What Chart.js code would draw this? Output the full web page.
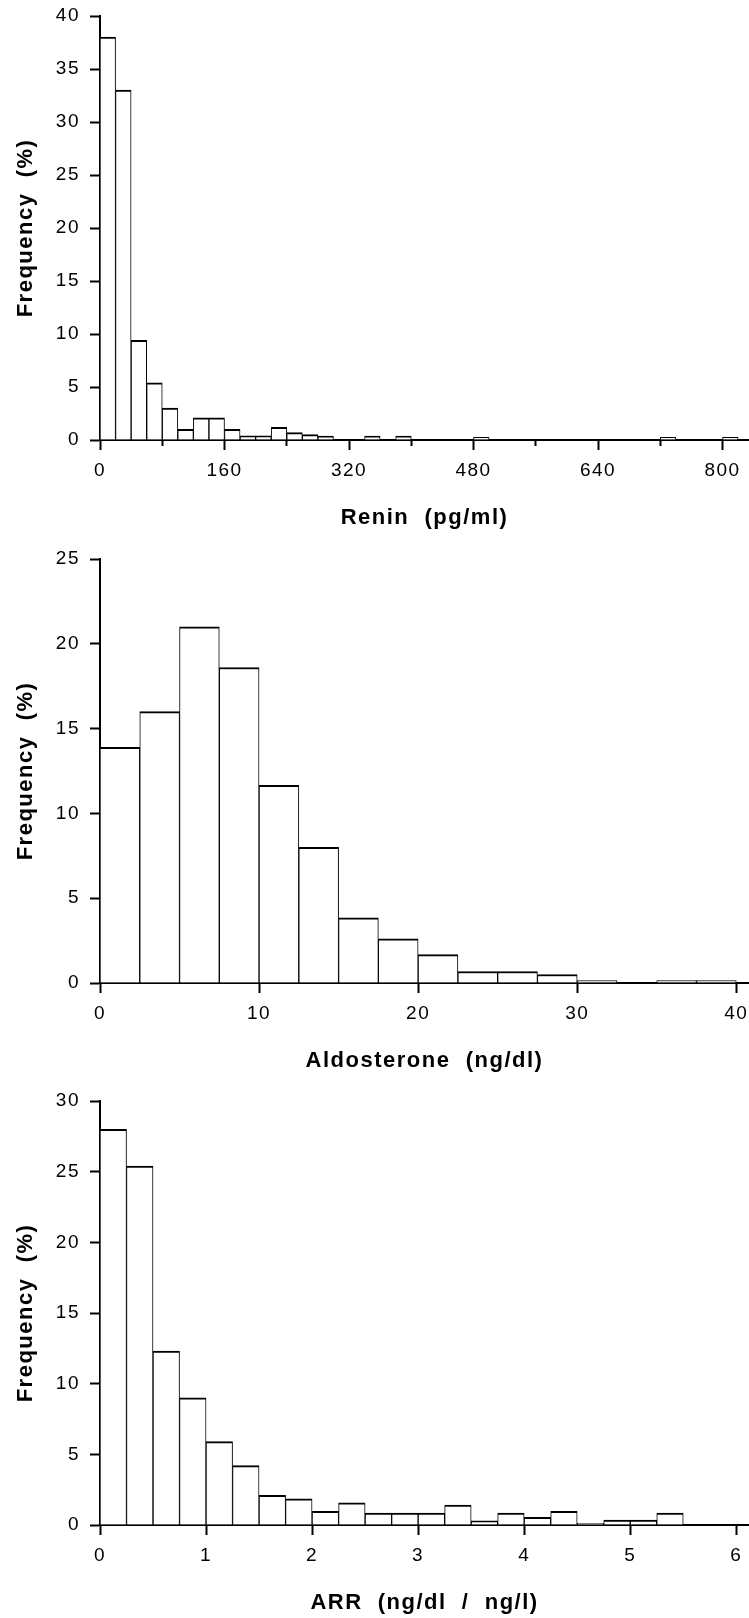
<!DOCTYPE html>
<html>
<head>
<meta charset="utf-8">
<script src="https://cdn.jsdelivr.net/npm/chart.js@4.4.1/dist/chart.umd.min.js"></script>
<style>
html,body{margin:0;padding:0;background:#fff;overflow:hidden;width:749px;height:1618px}
.panel{position:absolute;left:0;width:749px;height:543px}
</style>
</head>
<body>
<div class="panel" style="top:0"><canvas id="renin" width="749" height="543"></canvas></div>
<div class="panel" style="top:543px"><canvas id="aldo" width="749" height="543"></canvas></div>
<div class="panel" style="top:1085px"><canvas id="arr" width="749" height="543"></canvas></div>
<script>
// bin lower edges and frequencies (%)
const reninEdges=[0,20,40,60,80,100,120,140,160,180,200,220,240,260,280,300,320,340,360,380,400,420,440,460,480,500,520,540,560,580,600,620,640,660,680,700,720,740,760,780,800]
const reninFreq=[38,33,9.4,5.4,3.0,1.0,2.1,2.1,1.0,0.4,0.4,1.2,0.7,0.5,0.38,0,0,0.38,0,0.38,0,0,0,0,0.25,0,0,0,0,0,0,0,0,0,0,0,0.25,0,0,0,0.25]
const reninLabels=[0,160,320,480,640,800]

const aldoEdges=[0,2.5,5,7.5,10,12.5,15,17.5,20,22.5,25,27.5,30,32.5,35,37.5]
const aldoFreq=[13.9,16.0,21.0,18.6,11.65,8.0,3.84,2.6,1.67,0.68,0.68,0.5,0.15,0,0.15,0.15]
const aldoLabels=[0,10,20,30,40]

const arrEdges=[0,0.25,0.5,0.75,1,1.25,1.5,1.75,2,2.25,2.5,2.75,3,3.25,3.5,3.75,4,4.25,4.5,4.75,5,5.25]
const arrFreq=[28,25.4,12.3,9.0,5.9,4.2,2.1,1.85,0.97,1.56,0.84,0.84,0.84,1.41,0.3,0.84,0.54,0.97,0.12,0.35,0.35,0.84]
const arrLabels=[0,1,2,3,4,5,6]

const FONT="'Liberation Sans', Arial, Helvetica, sans-serif"

const spacing={
id:"spacing",
beforeUpdate(c){c.ctx.letterSpacing="1.5px"},
beforeDraw(c){c.ctx.letterSpacing="1.5px"}
}

function hist(id,edges,freq,binW,xMax,xStep,labels,yMax,xTitle){

const pts=edges.map((e,i)=>({x:e+binW/2,y:freq[i]}))

new Chart(document.getElementById(id),{
type:"bar",
data:{datasets:[{
data:pts,
backgroundColor:"#fff",
borderColor:"#000",
borderWidth:{top:2,left:1,right:1,bottom:0},
borderSkipped:"bottom",
barPercentage:1,
categoryPercentage:1
}]},
options:{
responsive:false,
animation:false,
events:[],
layout:{padding:{top:16,left:0,right:0,bottom:0}},
plugins:{legend:{display:false},tooltip:{enabled:false}},
scales:{
x:{
type:"linear",
min:0,
max:xMax,
offset:false,
z:1,
grid:{
display:true,offset:false,drawOnChartArea:false,drawTicks:true,
tickLength:10,tickWidth:2,tickColor:"#000",
// unlabelled ticks are drawn shorter
tickBorderDash:c=>(c.tick&&!labels.includes(c.tick.value))?[5,30]:[]
},
border:{display:true,color:"#000",width:2},
ticks:{
stepSize:xStep,
includeBounds:false,
autoSkip:false,
maxRotation:0,
padding:9,
color:"#000",
font:{family:FONT,size:19},
callback:v=>labels.includes(v)?String(v):""
},
title:{display:true,text:xTitle,color:"#000",font:{family:FONT,size:22,weight:"bold"},padding:{top:0,bottom:12}},
afterFit(s){s.height=103;s.paddingLeft=0;s.paddingRight=0}
},
y:{
min:0,
max:yMax,
z:1,
grid:{display:true,drawOnChartArea:false,drawTicks:true,tickLength:10,tickWidth:2,tickColor:"#000"},
border:{display:true,color:"#000",width:2},
ticks:{stepSize:5,padding:10,color:"#000",font:{family:FONT,size:19}},
title:{display:true,text:"Frequency  (%)",color:"#000",font:{family:FONT,size:22,weight:"bold"},padding:{top:13,bottom:0}},
afterFit(s){s.width=100;s.paddingTop=0;s.paddingBottom=0}
}
}
},
plugins:[spacing]
})

}

hist("renin",reninEdges,reninFreq,20,834,80,reninLabels,40,"Renin  (pg/ml)")
hist("aldo",aldoEdges,aldoFreq,2.5,40.8,10,aldoLabels,25,"Aldosterone  (ng/dl)")
hist("arr",arrEdges,arrFreq,0.25,6.12,1,arrLabels,30,"ARR  (ng/dl  /  ng/l)")
</script>
</body>
</html>
